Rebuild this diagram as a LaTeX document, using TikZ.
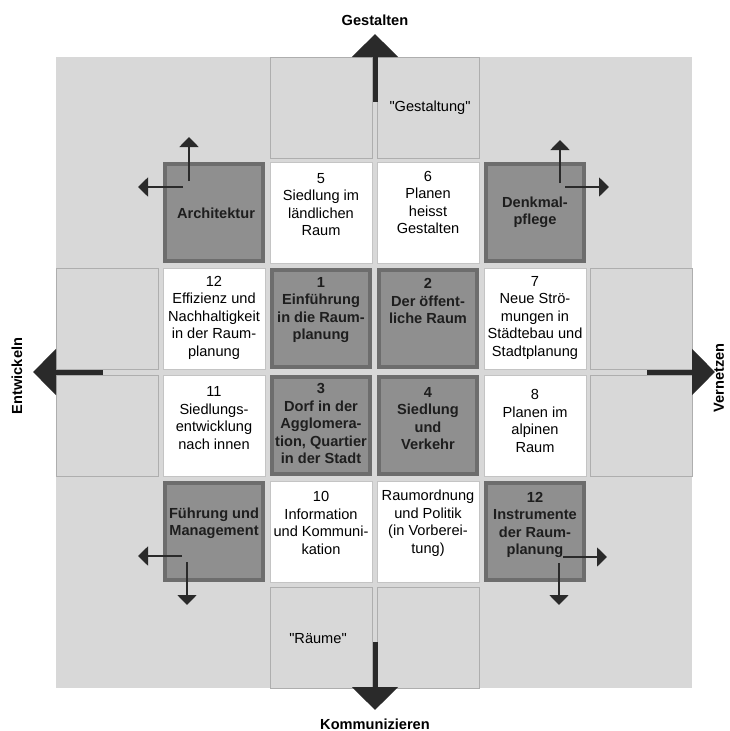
\documentclass[tikz,border=0pt]{standalone}
\usepackage{fontspec}
\setmainfont{Liberation Sans}
\usetikzlibrary{arrows.meta}
\definecolor{bg}{HTML}{D8D8D8}
\definecolor{cellline}{HTML}{AEAEAE}
\definecolor{whiteline}{HTML}{C4C4C4}
\definecolor{darkfill}{HTML}{8F8F8F}
\definecolor{darkline}{HTML}{6D6D6D}
\definecolor{arrowc}{HTML}{2A2A2A}
\definecolor{darktext}{HTML}{1E1E1E}
\tikzset{
  txt/.style={font=\fontsize{14.6}{17.5}\selectfont, inner sep=0pt, align=center, text=black},
  boldtxt/.style={txt, font=\fontsize{14.6}{17.5}\selectfont\bfseries, text=darktext},
  axislabel/.style={txt, font=\fontsize{14.6}{17.5}\selectfont\bfseries},
  lightcell/.style={draw=cellline, line width=0.6pt, fill=bg, minimum width=102pt, minimum height=101pt, inner sep=0pt},
  whitecell/.style={draw=whiteline, line width=0.6pt, fill=white, minimum width=102pt, minimum height=101pt, inner sep=0pt},
  darkcell/.style={draw=darkline, line width=4pt, fill=darkfill, minimum width=98pt, minimum height=97pt, inner sep=0pt},
  bigarrow/.style={draw=arrowc, line width=5pt, -{Triangle[length=23pt,width=45pt]}, arrowc},
  smallarrow/.style={draw=arrowc, line width=1.8pt, -{Triangle[length=10pt,width=19pt]}, arrowc}
}
\begin{document}
\begin{tikzpicture}[x=1pt,y=-1pt]
\useasboundingbox (0,0) rectangle (729,731);
\fill[white] (0,0) rectangle (729,731);
% background
\fill[bg] (56,57) rectangle (692,688);
% light outlined cells
\node[lightcell] (r1c) at (321,107.5) {};
\node[lightcell] (r1d) at (428,107.5) {};
\node[lightcell] (r3a) at (107,318.5) {};
\node[lightcell] (r3f) at (641,318.5) {};
\node[lightcell] (r4a) at (107,425.5) {};
\node[lightcell] (r4f) at (641,425.5) {};
\node[lightcell] (r6c) at (321,637.5) {};
\node[lightcell] (r6d) at (428,637.5) {};
% white cells
\node[whitecell] (c5) at (321,212.5) {};
\node[whitecell] (c6) at (428,212.5) {};
\node[whitecell] (c12a) at (214,318.5) {};
\node[whitecell] (c7) at (535,318.5) {};
\node[whitecell] (c11) at (214,425.5) {};
\node[whitecell] (c8) at (535,425.5) {};
\node[whitecell] (c10) at (321,531.5) {};
\node[whitecell] (cro) at (428,531.5) {};
% dark cells
\node[darkcell] (arch) at (214,212.5) {};
\node[darkcell] (denk) at (535,212.5) {};
\node[darkcell] (c1) at (321,318.5) {};
\node[darkcell] (c2) at (428,318.5) {};
\node[darkcell] (c3) at (321,425.5) {};
\node[darkcell] (c4) at (428,425.5) {};
\node[darkcell] (fuehr) at (214,531.5) {};
\node[darkcell] (instr) at (535,531.5) {};
% texts
\node[txt] (t5) at (321,204.5) {5\\Siedlung im\\ländlichen\\Raum};
\node[txt] (t6) at (428,202.5) {6\\Planen\\heisst\\Gestalten};
\node[boldtxt] (tarch) at (216,213) {Architektur};
\node[boldtxt] (tdenk) at (535,212.5) {Denkmal-\\pflege};
\node[txt] (t12a) at (214,317.5) {12\\Effizienz und\\Nachhaltigkeit\\in der Raum-\\planung};
\node[boldtxt] (t1) at (321,310) {1\\Einführung\\in die Raum-\\planung};
\node[boldtxt] (t2) at (428,301) {2\\Der öffent-\\liche Raum};
\node[txt] (t7) at (535,317.5) {7\\Neue Strö-\\mungen in\\Städtebau und\\Stadtplanung};
\node[txt] (t11) at (214,418) {11\\Siedlungs-\\entwicklung\\nach innen};
\node[boldtxt] (t3) at (321,423.5) {3\\Dorf in der\\Agglomera-\\tion, Quartier\\in der Stadt};
\node[boldtxt] (t4) at (428,418.5) {4\\Siedlung\\und\\Verkehr};
\node[txt] (t8) at (535,421) {8\\Planen im\\alpinen\\Raum};
\node[boldtxt] (tfuehr) at (214,523.5) {Führung und\\Management};
\node[txt] (t10) at (321,523) {10\\Information\\und Kommuni-\\kation};
\node[txt] (tro) at (428,523) {Raumordnung\\und Politik\\(in Vorberei-\\tung)};
\node[boldtxt] (tinstr) at (535,525) {12\\Instrumente\\der Raum-\\planung};
\node[txt] (tgest) at (430,108) {\textquotedbl Gestaltung\textquotedbl};
\node[txt] (traeume) at (318,639) {\textquotedbl Räume\textquotedbl};
% axis labels
\node[axislabel] (lgest) at (375,20) {Gestalten};
\node[axislabel] (lkomm) at (375,724) {Kommunizieren};
\node[axislabel, rotate=90] (lentw) at (17,376) {Entwickeln};
\node[axislabel, rotate=90] (lvern) at (719,378) {Vernetzen};
% big arrow coordinates
\coordinate (topS) at (375,102);
\coordinate (topT) at (375,34);
\coordinate (botS) at (375,642);
\coordinate (botT) at (375,710);
\coordinate (lefS) at (103,372);
\coordinate (lefT) at (33,372);
\coordinate (rigS) at (647,372);
\coordinate (rigT) at (715,372);
\draw[bigarrow] (topS) -- (topT);
\draw[bigarrow] (botS) -- (botT);
\draw[bigarrow] (lefS) -- (lefT);
\draw[bigarrow] (rigS) -- (rigT);
% small arrow coordinates
\coordinate (aUpS) at (189,181);
\coordinate (aUpT) at (189,137);
\coordinate (aLeS) at (183,187);
\coordinate (aLeT) at (138,187);
\coordinate (dUpS) at (560,183);
\coordinate (dUpT) at (560,140);
\coordinate (dRiS) at (565,187);
\coordinate (dRiT) at (609,187);
\coordinate (fLeS) at (182,556);
\coordinate (fLeT) at (138,556);
\coordinate (fDoS) at (187,562);
\coordinate (fDoT) at (187,605);
\coordinate (iRiS) at (563,557);
\coordinate (iRiT) at (607,557);
\coordinate (iDoS) at (559,563);
\coordinate (iDoT) at (559,605);
\draw[smallarrow] (aUpS) -- (aUpT);
\draw[smallarrow] (aLeS) -- (aLeT);
\draw[smallarrow] (dUpS) -- (dUpT);
\draw[smallarrow] (dRiS) -- (dRiT);
\draw[smallarrow] (fLeS) -- (fLeT);
\draw[smallarrow] (fDoS) -- (fDoT);
\draw[smallarrow] (iRiS) -- (iRiT);
\draw[smallarrow] (iDoS) -- (iDoT);
\end{tikzpicture}
\end{document}
